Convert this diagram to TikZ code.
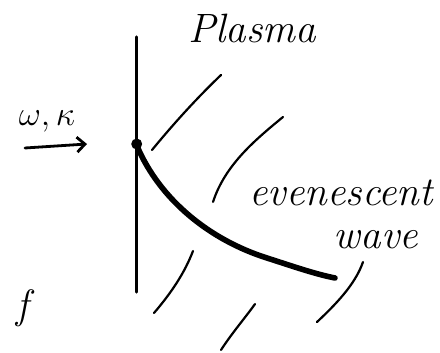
\documentclass[tikz,border=0pt]{standalone}
\usetikzlibrary{arrows.meta}
\begin{document}
\begin{tikzpicture}[x=1pt,y=-1pt,
  hand/.style={line cap=round,line join=round},
  wall/.style={hand,line width=3.3pt},
  wavecurve/.style={hand,line width=5.6pt},
  hatch/.style={hand,line width=2.2pt},
  lbl/.style={inner sep=0pt,font=\fontsize{41}{43}\selectfont\itshape}]
\useasboundingbox (0,0) rectangle (440,353);
% wall
\coordinate (wtop) at (136.7,37);
\coordinate (wbot) at (136.7,292);
\draw[wall] (wtop) -- (wbot);
% point on wall
\node[circle,fill,inner sep=0pt,minimum size=11pt] (pt) at (136.7,144) {};
% evanescent decay curve
\coordinate (cend) at (335,278);
\draw[wavecurve] (137,146) .. controls (160,200) and (210,240) .. (267,258)
  .. controls (295,267) and (315,274) .. (cend);
% incoming arrow
\coordinate (ain) at (25,148);
\coordinate (aout) at (87,144);
\draw[hand,line width=2.8pt,-{Straight Barb[length=8pt,width=15pt,line width=2.8pt]}] (ain) -- (aout);
\node[inner sep=0pt,font=\huge,scale=1.65] (wk) at (47,121) {$\omega,\kappa$};
% labels
\node[lbl] (plasma) at (252,28) {Plasma};
\node[lbl] (evan) at (341,193) {evenescent};
\node[lbl] (wave) at (376,240) {wave};
\node[lbl,anchor=east] (of) at (29,308) {f};
% hatching
\draw[hatch] (152,150) .. controls (175,122) and (198,97) .. (221,75);
\draw[hatch] (213,202) .. controls (225,165) and (255,140) .. (283,117);
\draw[hatch] (154,313) .. controls (172,292) and (185,272) .. (193,251);
\draw[hatch] (221,350) .. controls (232,333) and (245,318) .. (255,304);
\draw[hatch] (317,322) .. controls (335,305) and (355,285) .. (363,262);
\end{tikzpicture}
\end{document}
